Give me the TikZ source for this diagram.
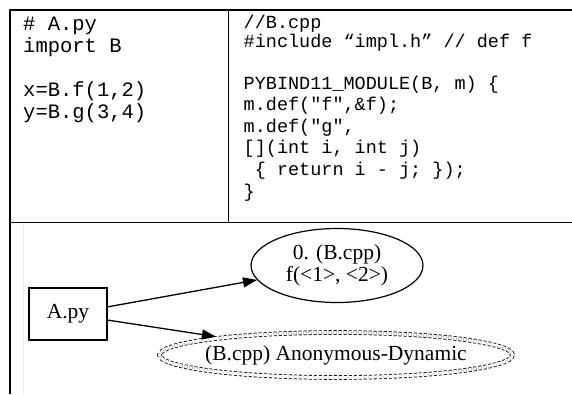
\documentclass[tikz,border=0pt]{standalone}
\usepackage{fontspec}
\setmainfont{Liberation Serif}
\setmonofont{Liberation Mono}
\usetikzlibrary{shapes.geometric,arrows.meta}
\begin{document}
\begin{tikzpicture}[x=1pt,y=-1pt,
  gridline/.style={line width=#1, black},
  lcode/.style={anchor=base west, inner sep=0pt, font=\fontsize{20.5}{22.5}\selectfont\ttfamily},
  rcode/.style={anchor=base west, inner sep=0pt, font=\fontsize{18.5}{21.7}\selectfont\ttfamily},
  gfont/.style={font=\fontsize{21.5}{21.5}\selectfont},
  edge/.style={line width=1.3pt, -{Triangle[length=14pt,width=10pt]}},
  boxnode/.style={draw, line width=1.3pt, minimum width=78pt, minimum height=52pt, gfont},
  ellnode/.style={ellipse, draw, line width=1.2pt, inner sep=0pt, gfont, align=center},
  dblell/.style={ellipse, draw, line width=0.8pt, double, double distance=3pt,
                 dash pattern=on 3pt off 2pt, inner xsep=-12pt, inner ysep=0pt, outer sep=2.3pt, gfont},
]
\useasboundingbox (0,0) rectangle (572,394);
% table rules
\draw[gridline=1.5pt] (9,10) -- (572,10);
\draw[gridline=2.2pt] (10,9) -- (10,394);
\draw[gridline=1.2pt] (228.5,10) -- (228.5,222.5);
\draw[gridline=1.2pt] (9,222.5) -- (572,222.5);
\draw[line width=0.8pt, black!7] (23,223) -- (23,394);
% left cell
\node[lcode] (l1) at (23,30) {\# A.py};
\node[lcode] (l2) at (23,52.3) {import B};
\node[lcode] (l3) at (23,96) {x=B.f(1,2)};
\node[lcode] (l4) at (23,118.3) {y=B.g(3,4)};
% right cell
\node[rcode] (r1) at (243.5,28) {//B.cpp};
\node[rcode] (r2) at (243.5,47) {\#include “impl.h” // def f};
\node[rcode] (r3) at (243.5,89) {PYBIND11\_MODULE(B, m) \{};
\node[rcode] (r4) at (243.5,110.5) {m.def("f",\&f);};
\node[rcode] (r5) at (243.5,132) {m.def("g",};
\node[rcode] (r6) at (243.5,153.5) {[](int i, int j)};
\node[rcode] (r7) at (254.6,175) {\{ return i - j; \});};
\node[rcode] (r8) at (243.5,197) {\}};
% graph
\node[boxnode] (A) at (68,314) {A.py};
\node[ellnode, minimum width=172pt, minimum height=74pt] (e1) at (337,265.5) {0. (B.cpp)\\f(<1>, <2>)};
\node[dblell, minimum width=353pt, minimum height=45pt] (e2) at (336,355) {(B.cpp) Anonymous-Dynamic};
\draw[edge] (A) -- (e1);
\draw[edge] (A) -- (e2);
\end{tikzpicture}
\end{document}
